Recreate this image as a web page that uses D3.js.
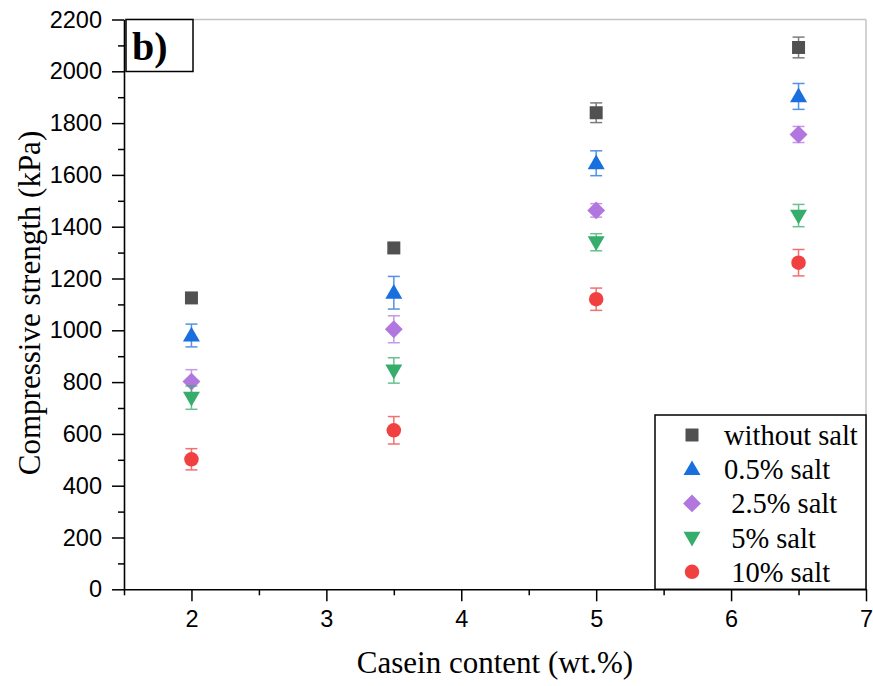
<!DOCTYPE html>
<html><head><meta charset="utf-8">
<script src="https://cdn.jsdelivr.net/npm/d3@7"></script>
<style>body{margin:0;background:#fff}</style>
</head><body><svg id="c" width="873" height="686"></svg>
<script>
const casein = [2, 3.5, 5, 6.5];
const seriesNames = ["without salt", "0.5% salt", " 2.5% salt", " 5% salt", " 10% salt"];
const withoutSalt = [1125, 1318, 1840, 2092];
const withoutSaltErr = [15, 15, 38, 40];
const salt05 = [980, 1145, 1645, 1903];
const salt05Err = [44, 63, 48, 50];
const salt25 = [802, 1004, 1463, 1756];
const salt25Err = [46, 52, 26, 31];
const salt5 = [740, 845, 1340, 1443];
const salt5Err = [45, 49, 33, 43];
const salt10 = [502, 614, 1120, 1261];
const salt10Err = [41, 53, 43, 51];
const xTicks = [2, 3, 4, 5, 6, 7];
const yTicks = [0, 200, 400, 600, 800, 1000, 1200, 1400, 1600, 1800, 2000, 2200];

const colors = ["#515151", "#1A6FDF", "#B177DE", "#37AD6B", "#F14040"];
const shapes = ["square", "triUp", "diamond", "triDown", "circle"];
const values = [withoutSalt, salt05, salt25, salt5, salt10];
const errs = [withoutSaltErr, salt05Err, salt25Err, salt5Err, salt10Err];

const svg = d3.select("#c");
const L = 124, R = 866, T = 19.5, B = 589.3;
const x = d3.scaleLinear().domain([1.5, 7]).range([L, R]);
const y = d3.scaleLinear().domain([0, 2200]).range([B, T]);

function symbolPath(shape) {
  if (shape === "square") return d3.symbol(d3.symbolSquare, 169)();
  if (shape === "triUp" || shape === "triDown") return d3.symbol(d3.symbolTriangle, 125)();
  if (shape === "diamond") return d3.symbol(d3.symbolSquare, 160)();
  return d3.symbol(d3.symbolCircle, 165)();
}
function rot(shape) {
  if (shape === "triDown") return " rotate(180)";
  if (shape === "diamond") return " rotate(45)";
  return "";
}
const triOff = shape => shape === "triUp" ? 1 : (shape === "triDown" ? -1 : 0);

// frame (light gray top & right)
svg.append("line").attr("x1", L).attr("x2", R).attr("y1", T).attr("y2", T).attr("stroke", "#c4c4c4").attr("stroke-width", 1.5);
svg.append("line").attr("x1", R).attr("x2", R).attr("y1", T).attr("y2", B).attr("stroke", "#c4c4c4").attr("stroke-width", 1.5);

// axes
const yAxis = d3.axisLeft(y).tickValues(yTicks).tickSize(12).tickSizeOuter(0).tickPadding(10).tickFormat(d3.format("d"));
svg.append("g").attr("transform", `translate(${L},0)`).call(yAxis);
const yMinor = d3.axisLeft(y).tickValues(d3.range(100, 2200, 200)).tickSize(6).tickSizeOuter(0).tickFormat("");
svg.append("g").attr("transform", `translate(${L},0)`).call(yMinor).select(".domain").remove();

const xAxis = d3.axisBottom(x).tickValues(xTicks).tickSize(12).tickSizeOuter(0).tickPadding(9).tickFormat(d3.format("d"));
svg.append("g").attr("transform", `translate(0,${B})`).call(xAxis);
const xMinor = d3.axisBottom(x).tickValues([1.5, 2.5, 3.5, 4.5, 5.5, 6.5]).tickSize(6).tickSizeOuter(0).tickFormat("");
svg.append("g").attr("transform", `translate(0,${B})`).call(xMinor).select(".domain").remove();

svg.selectAll(".domain").attr("stroke", "#000").attr("stroke-width", 1.6);
svg.selectAll(".tick line").attr("stroke", "#000").attr("stroke-width", 1.5);
svg.selectAll(".tick text").attr("font-family", "'Liberation Sans', Arial, sans-serif").attr("font-size", 23.5).attr("fill", "#000");

// data: error bars and markers
values.forEach((vals, si) => {
  const g = svg.append("g");
  vals.forEach((v, i) => {
    const cx = x(casein[i]), e = errs[si][i];
    const eb = g.append("g").attr("stroke", colors[si]).attr("stroke-width", 1.5).attr("opacity", 0.75);
    eb.append("line").attr("x1", cx).attr("x2", cx).attr("y1", y(v + e)).attr("y2", y(v - e));
    eb.append("line").attr("x1", cx - 6).attr("x2", cx + 6).attr("y1", y(v + e)).attr("y2", y(v + e));
    eb.append("line").attr("x1", cx - 6).attr("x2", cx + 6).attr("y1", y(v - e)).attr("y2", y(v - e));
  });
  vals.forEach((v, i) => {
    g.append("path").attr("d", symbolPath(shapes[si]))
      .attr("transform", `translate(${x(casein[i])},${y(vals[i]) + triOff(shapes[si])})${rot(shapes[si])}`)
      .attr("fill", colors[si]);
  });
});

// legend
const lg = svg.append("g");
lg.append("rect").attr("x", 655).attr("y", 415).attr("width", R - 655).attr("height", B - 415)
  .attr("fill", "#fff").attr("stroke", "#000").attr("stroke-width", 1.5);
seriesNames.forEach((name, i) => {
  const ry = 435 + i * 34.2;
  lg.append("path").attr("d", symbolPath(shapes[i]))
    .attr("transform", `translate(692,${ry + triOff(shapes[i])})${rot(shapes[i])}`).attr("fill", colors[i]);
  lg.append("text").attr("x", 724).attr("y", ry).attr("dy", "0.35em")
    .attr("font-family", "'Liberation Serif', 'Times New Roman', serif").attr("font-size", 28.5)
    .style("white-space", "pre").text(name);
});

// panel label
svg.append("rect").attr("x", 126).attr("y", 19.5).attr("width", 67).attr("height", 52)
  .attr("fill", "#fff").attr("stroke", "#000").attr("stroke-width", 1.5);
svg.append("text").attr("x", 132).attr("y", 60).attr("font-family", "'Liberation Serif', 'Times New Roman', serif")
  .attr("font-weight", "bold").attr("font-size", 40).text("b)");

// axis titles
svg.append("text").attr("x", 495).attr("y", 673).attr("text-anchor", "middle")
  .attr("font-family", "'Liberation Serif', 'Times New Roman', serif").attr("font-size", 31).text("Casein content (wt.%)");
svg.append("text").attr("transform", "translate(40,303) rotate(-90)").attr("text-anchor", "middle")
  .attr("font-family", "'Liberation Serif', 'Times New Roman', serif").attr("font-size", 31).text("Compressive strength (kPa)");
</script></body></html>
